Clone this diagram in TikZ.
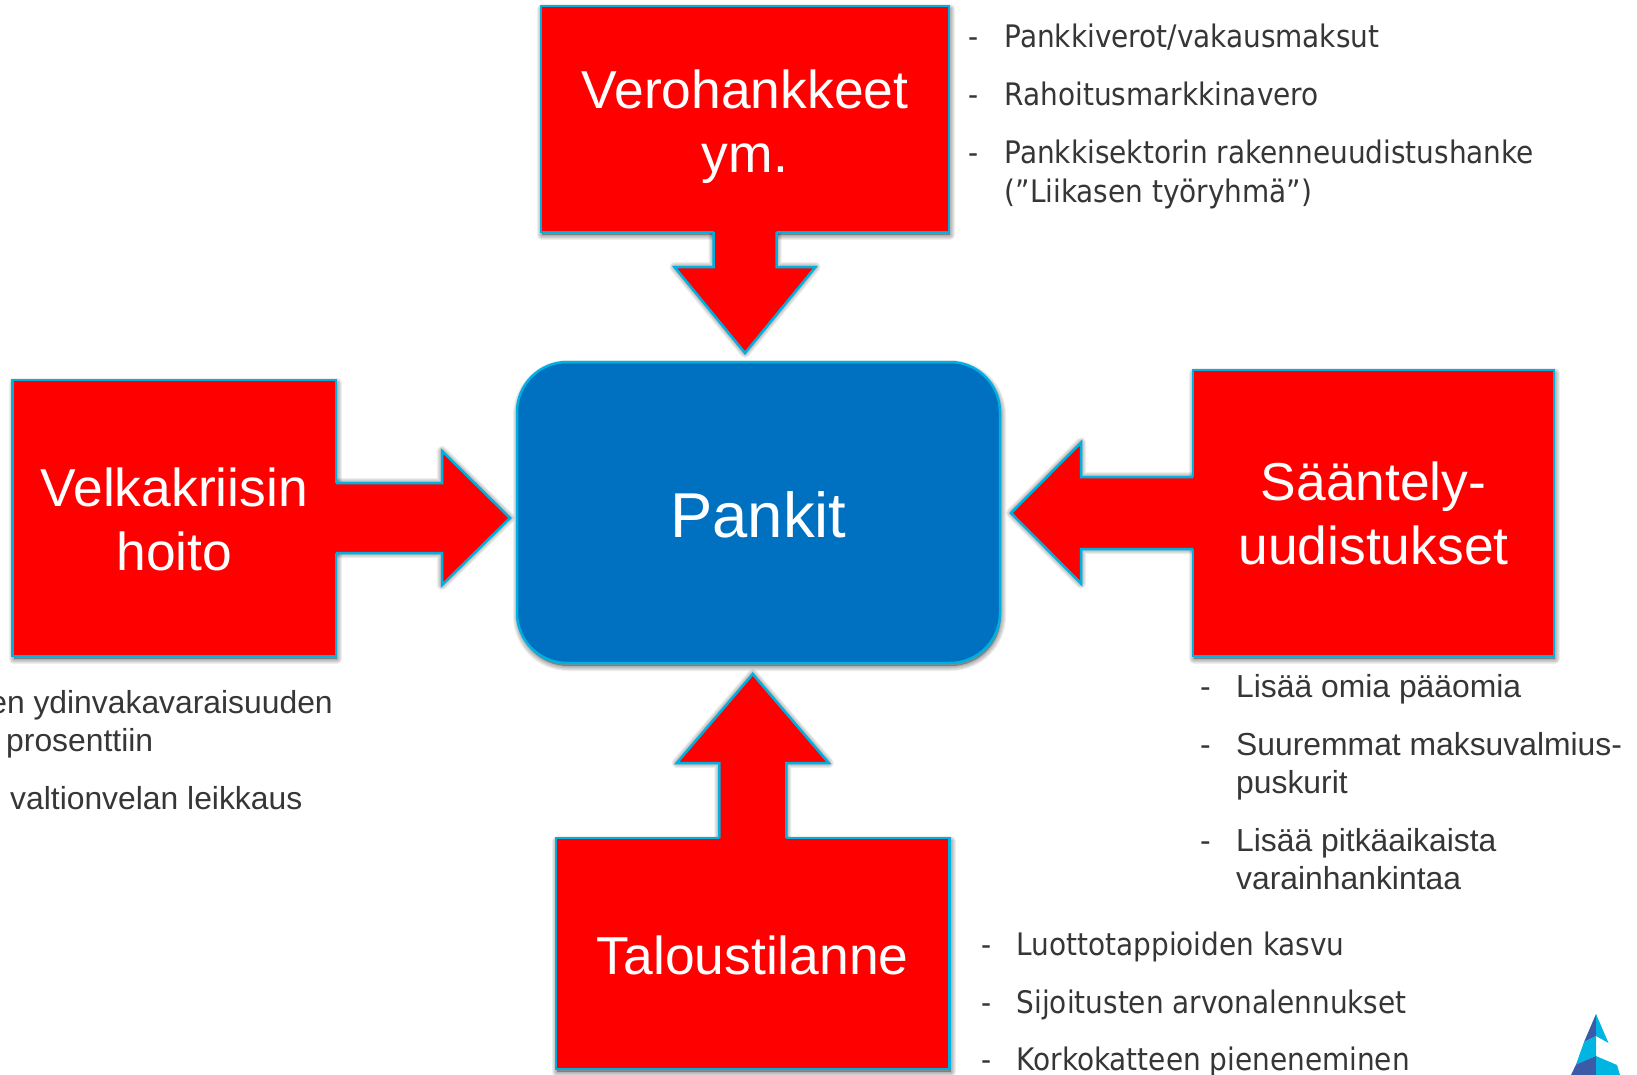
\documentclass[tikz,border=0pt]{standalone}
\usepackage{fontspec}
\setmainfont{Liberation Sans}
\newfontfamily\tahomalike{DejaVu Sans Condensed}
\usetikzlibrary{calc}
\pgfdeclarelayer{under}
\pgfsetlayers{under,main}
\definecolor{redfill}{HTML}{FF0000}
\definecolor{edgeblue}{HTML}{00B0E0}
\definecolor{bankblue}{HTML}{0070C0}
\definecolor{listgray}{HTML}{363636}
\definecolor{logodark}{HTML}{3B5BA9}
\definecolor{logolight}{HTML}{00B5E2}
\tikzset{
  x=1pt,y=-1pt,
  redbox/.style={draw=edgeblue,line width=2.5pt,fill=redfill,text=white,align=center,outer sep=0pt,inner sep=0pt,
    font=\fontsize{53.4}{64.5}\selectfont},
  bankbox/.style={draw=edgeblue,line width=2.5pt,fill=bankblue,text=white,rounded corners=50pt,outer sep=0pt,inner sep=0pt,
    font=\fontsize{63.4}{70}\selectfont},
  arialitem/.style={anchor=base west,inner sep=0pt,text=listgray,font=\fontsize{31.85}{38}\selectfont},
  tahomaitem/.style={anchor=base west,inner sep=0pt,text=listgray,font=\tahomalike\fontsize{31.05}{38}\selectfont},
  softshade/.style={draw=black,fill=black,opacity=0.065,line join=round},
}
\newcommand{\softshadow}[1]{%
  \foreach \w in {10,8,6,4,2}{\path[softshade,line width=\w pt] #1;}}
% block arrow: base anchor, rotation, shaft half, head distance, head half, tip distance
\newcommand{\blockarrow}[6]{%
  \begin{pgfonlayer}{under}
    \begin{scope}[shift={(1,3)},shift={(#1)},rotate=#2]
      \softshadow{(0,-#3) -- (#4,-#3) -- (#4,-#5) -- (#6,0) -- (#4,#5) -- (#4,#3) -- (0,#3) -- cycle}
    \end{scope}
  \end{pgfonlayer}
  \begin{scope}[shift={(#1)},rotate=#2]
    \fill[redfill] (-3,-#3) -- (#4,-#3) -- (#4,-#5) -- (#6,0) -- (#4,#5) -- (#4,#3) -- (-3,#3) -- cycle;
    \draw[edgeblue,line width=2.5pt,line join=miter] (0,-#3) -- (#4,-#3) -- (#4,-#5) -- (#6,0) -- (#4,#5) -- (#4,#3) -- (0,#3);
  \end{scope}}
\newcommand{\shadownode}[1]{%
  \begin{pgfonlayer}{under}
    \softshadow{($(#1.north west)+(1,3)$) rectangle ($(#1.south east)+(1,3)$)}
  \end{pgfonlayer}}
\begin{document}
\begin{tikzpicture}
\useasboundingbox (0,0) rectangle (1637,1075);

\node[bankbox,minimum width=483pt,minimum height=301pt] (bank) at (758.5,512.5) {\rule{0pt}{50pt}Pankit};
\begin{pgfonlayer}{under}
  \foreach \w in {10,8,6,4,2}{\path[softshade,line width=\w pt,rounded corners=50pt] ($(bank.north west)+(1,3)$) rectangle ($(bank.south east)+(1,3)$);}
\end{pgfonlayer}

\node[redbox,minimum width=408pt,minimum height=226pt] (top) at (745,119) {\rule{0pt}{54pt}Verohankkeet\\ym.};
\node[redbox,minimum width=323.5pt,minimum height=276pt] (left) at (174.25,518) {\rule{0pt}{42pt}Velkakriisin\\hoito};
\node[redbox,minimum width=361pt,minimum height=286pt] (right) at (1373.5,513) {\rule{0pt}{40pt}Sääntely-\\uudistukset};
\node[redbox,minimum width=393.5pt,minimum height=231pt] (bottom) at (752.75,953.5) {\rule{0pt}{42pt}Taloustilanne};
\shadownode{top}\shadownode{left}\shadownode{right}\shadownode{bottom}

\blockarrow{top.south}{-90}{31.5}{35}{70.5}{121}
\blockarrow{left.east}{0}{35}{106}{67}{174}
\blockarrow{right.west}{180}{36}{112}{70.5}{182}
\blockarrow{bottom.north}{90}{33.5}{75}{76}{164}

% top list
\node[tahomaitem] (td1) at (968,48) {-};
\node[tahomaitem] (tt1) at (1004.5,48) {Pankkiverot/vakausmaksut};
\node[tahomaitem] (td2) at (968,106) {-};
\node[tahomaitem] (tt2) at (1004.5,106) {Rahoitusmarkkinavero};
\node[tahomaitem] (td3) at (968,164) {-};
\node[tahomaitem] (tt3) at (1004.5,164) {Pankkisektorin rakenneuudistushanke};
\node[tahomaitem] (tt4) at (1004.5,203) {(”Liikasen työryhmä”)};

% right list
\node[arialitem] (rd1) at (1200,697) {-};
\node[arialitem] (rt1) at (1236,697) {Lisää omia pääomia};
\node[arialitem] (rd2) at (1200,755) {-};
\node[arialitem] (rt2) at (1236,755) {Suuremmat maksuvalmius-};
\node[arialitem] (rt3) at (1236,793) {puskurit};
\node[arialitem] (rd3) at (1200,851) {-};
\node[arialitem] (rt4) at (1236,851) {Lisää pitkäaikaista};
\node[arialitem] (rt5) at (1236,889) {varainhankintaa};

% bottom list
\node[tahomaitem] (bd1) at (981,955) {-};
\node[tahomaitem] (bt1) at (1016.5,955) {Luottotappioiden kasvu};
\node[tahomaitem] (bd2) at (981,1013) {-};
\node[tahomaitem] (bt2) at (1016.5,1013) {Sijoitusten arvonalennukset};
\node[tahomaitem] (bd3) at (981,1070) {-};
\node[tahomaitem] (bt3) at (1016.5,1070) {Korkokatteen pieneneminen};

% left list (cut by the page edge)
\node[arialitem,anchor=base east] (lt1) at (333,713) {en ydinvakavaraisuuden};
\node[arialitem] (lt2) at (6,751) {prosenttiin};
\node[arialitem] (lt3) at (10,809) {valtionvelan leikkaus};

% logo
\fill[logodark] (1596,1014) -- (1584,1042) -- (1596,1036) -- cycle;
\fill[logolight] (1596,1014) -- (1608.5,1043) -- (1596,1036) -- cycle;
\fill[logolight] (1584,1042) -- (1596,1036) -- (1596,1056) -- (1576,1064.5) -- cycle;
\fill[logodark] (1576,1064.5) -- (1596,1056) -- (1596,1075) -- (1571,1075) -- cycle;
\fill[logolight] (1596,1056) -- (1617,1065) -- (1620,1075) -- (1596,1075) -- cycle;
\end{tikzpicture}
\end{document}
